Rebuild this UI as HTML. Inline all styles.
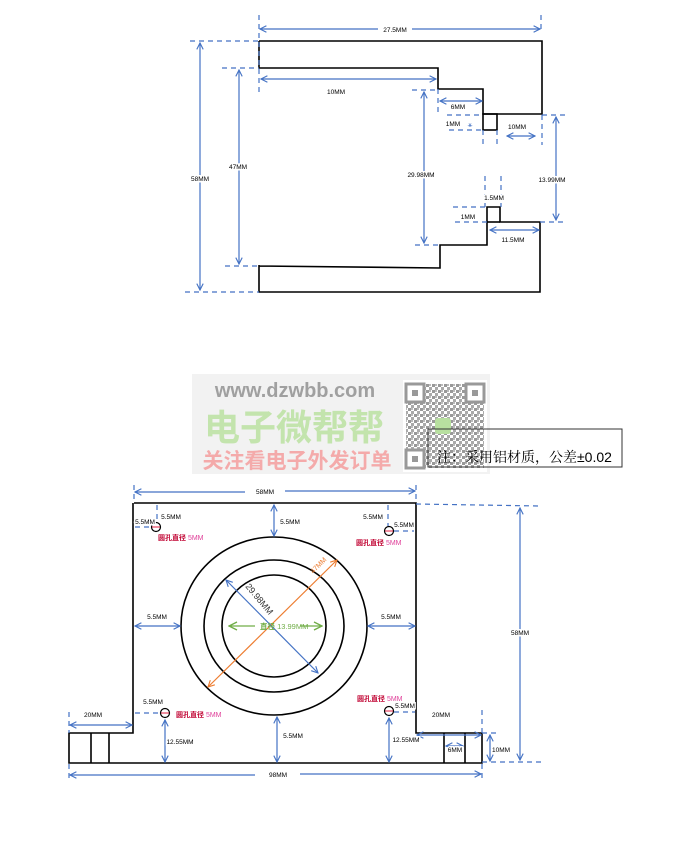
<!DOCTYPE html>
<html><head><meta charset="utf-8"><style>
html,body{margin:0;padding:0;background:#fff;}
svg{display:block;}
text{font-family:"Liberation Sans","Noto Sans CJK SC",sans-serif;}
.o{fill:none;stroke:#000;stroke-width:1.6;}
.d{stroke:#4472c4;stroke-width:1.2;fill:none;}
.dd{stroke:#4472c4;stroke-width:1.2;fill:none;stroke-dasharray:5,4;}
.l{font-size:6.5px;fill:#000;paint-order:stroke;stroke:#fff;stroke-width:3px;}
.r{font-size:7px;fill:#c00030;font-weight:bold;}
</style></head><body>
<svg width="682" height="848" viewBox="0 0 682 848" xmlns="http://www.w3.org/2000/svg">
<defs>
<marker id="a" viewBox="0 0 10 10" refX="9" refY="5" markerWidth="8" markerHeight="8" orient="auto-start-reverse" markerUnits="userSpaceOnUse"><polyline points="1,1 9,5 1,9" fill="none" stroke="#4472c4" stroke-width="1.4"/></marker>
<marker id="ao" viewBox="0 0 10 10" refX="9" refY="5" markerWidth="8" markerHeight="8" orient="auto-start-reverse" markerUnits="userSpaceOnUse"><polyline points="1,1 9,5 1,9" fill="none" stroke="#ed7d31" stroke-width="1.4"/></marker>
<marker id="ag" viewBox="0 0 10 10" refX="9" refY="5" markerWidth="10" markerHeight="10" orient="auto-start-reverse" markerUnits="userSpaceOnUse"><polyline points="1,1 9,5 1,9" fill="none" stroke="#70ad47" stroke-width="1.4"/></marker>
<pattern id="qr" width="6" height="6" patternUnits="userSpaceOnUse"><rect width="3" height="3" fill="#999"/><rect x="3" y="3" width="3" height="3" fill="#aaa"/><rect x="3" y="0" width="2" height="2" fill="#bbb"/></pattern>
</defs>

<!-- ===== TOP DRAWING ===== -->
<polyline class="o" points="259,41 542,41 542,114 483,114 483,89 438,89 438,68 259,68 259,41"/>
<rect class="o" x="483" y="114" width="14" height="16"/>
<polyline class="o" points="259,265 259,292 540,292 540,222 500,222 500,207 487,207 487,245 440,245 440,268 259,266"/>
<line class="o" x1="487" y1="222" x2="500" y2="222"/>

<!-- dims top -->
<line class="dd" x1="259" y1="15" x2="259" y2="92"/>
<line class="dd" x1="541" y1="15" x2="541" y2="32"/>
<line class="d" x1="260" y1="29" x2="378" y2="29" marker-start="url(#a)"/>
<line class="d" x1="412" y1="29" x2="540" y2="29" marker-end="url(#a)"/>
<text class="l" x="395" y="32" text-anchor="middle">27.5MM</text>

<line class="dd" x1="190" y1="41" x2="259" y2="41"/>
<line class="dd" x1="185" y1="292" x2="259" y2="292"/>
<line class="d" x1="200" y1="43" x2="200" y2="290" marker-start="url(#a)" marker-end="url(#a)"/>
<text class="l" x="200" y="181" text-anchor="middle">58MM</text>

<line class="dd" x1="222" y1="68" x2="259" y2="68"/>
<line class="dd" x1="225" y1="266" x2="259" y2="266"/>
<line class="d" x1="239" y1="70" x2="239" y2="264" marker-start="url(#a)" marker-end="url(#a)"/>
<text class="l" x="238" y="169" text-anchor="middle">47MM</text>

<line class="d" x1="261" y1="79" x2="436" y2="79" marker-start="url(#a)" marker-end="url(#a)"/>
<text class="l" x="336" y="94" text-anchor="middle">10MM</text>

<line class="dd" x1="412" y1="90" x2="438" y2="90"/>
<line class="dd" x1="415" y1="245" x2="440" y2="245"/>
<line class="d" x1="424" y1="92" x2="424" y2="243" marker-start="url(#a)" marker-end="url(#a)"/>
<text class="l" x="421" y="177" text-anchor="middle">29.98MM</text>

<line class="dd" x1="438" y1="89" x2="438" y2="114"/>
<line class="d" x1="440" y1="101" x2="482" y2="101" marker-start="url(#a)" marker-end="url(#a)"/>
<text class="l" x="458" y="109" text-anchor="middle">6MM</text>

<line class="dd" x1="447" y1="115" x2="482" y2="115"/>
<line class="dd" x1="449" y1="130" x2="482" y2="130"/>
<text class="l" x="453" y="126" text-anchor="middle">1MM</text>
<text x="470" y="127" font-size="8" fill="#4472c4" text-anchor="middle">⚹</text>
<line class="dd" x1="483" y1="130" x2="483" y2="146"/>
<line class="dd" x1="497" y1="130" x2="497" y2="146"/>
<line class="dd" x1="542" y1="115" x2="542" y2="145"/>
<line class="d" x1="507" y1="136" x2="535" y2="136" marker-start="url(#a)" marker-end="url(#a)"/>
<text class="l" x="517" y="129" text-anchor="middle">10MM</text>

<line class="dd" x1="542" y1="115" x2="566" y2="115"/>
<line class="dd" x1="540" y1="222" x2="566" y2="222"/>
<line class="d" x1="556" y1="117" x2="556" y2="220" marker-start="url(#a)" marker-end="url(#a)"/>
<text class="l" x="552" y="182" text-anchor="middle">13.99MM</text>

<line class="dd" x1="485" y1="176" x2="485" y2="207"/>
<line class="dd" x1="501" y1="176" x2="501" y2="207"/>
<text class="l" x="494" y="200" text-anchor="middle">1.5MM</text>
<line class="dd" x1="453" y1="207" x2="487" y2="207"/>
<line class="dd" x1="455" y1="222" x2="487" y2="222"/>
<text class="l" x="468" y="219" text-anchor="middle">1MM</text>
<line class="d" x1="490" y1="230" x2="539" y2="230" marker-start="url(#a)" marker-end="url(#a)"/>
<text class="l" x="513" y="242" text-anchor="middle">11.5MM</text>

<!-- ===== WATERMARK ===== -->
<rect x="192" y="374" width="298" height="100" fill="#f2f2f2"/>
<text x="295" y="397" font-size="20" font-weight="bold" fill="#a0a0a0" text-anchor="middle">www.dzwbb.com</text>
<text x="294" y="440" font-size="36" font-weight="bold" fill="#c3e4ad" text-anchor="middle" style="font-family:'Noto Sans CJK SC',sans-serif">电子微帮帮</text>
<text x="297" y="468" font-size="21" font-weight="bold" fill="#f4aaaa" text-anchor="middle" style="font-family:'Noto Sans CJK SC',sans-serif">关注看电子外发订单</text>
<rect x="403" y="380" width="84" height="92" fill="#fff"/>
<rect x="406" y="384" width="78" height="84" fill="url(#qr)"/>
<rect x="406" y="384" width="18" height="18" fill="#fff" stroke="#999" stroke-width="3"/>
<rect x="466" y="384" width="18" height="18" fill="#fff" stroke="#999" stroke-width="3"/>
<rect x="406" y="450" width="18" height="18" fill="#fff" stroke="#999" stroke-width="3"/>
<rect x="412" y="390" width="6" height="6" fill="#999"/>
<rect x="472" y="390" width="6" height="6" fill="#999"/>
<rect x="412" y="456" width="6" height="6" fill="#999"/>
<rect x="435" y="418" width="16" height="16" rx="3" fill="#b8e0a0"/>

<rect x="428" y="429" width="194" height="38" fill="none" stroke="#333" stroke-width="1"/>
<text x="437" y="462" font-size="14" fill="#000" style="font-family:'Liberation Sans','Noto Serif CJK SC',serif">注：采用铝材质，公差±0.02</text>

<!-- ===== BOTTOM DRAWING ===== -->
<polyline class="o" points="134,503 416,503 416,733 482,733 482,763 69,763 69,733 133,733 133,503"/>
<line class="o" x1="91" y1="733" x2="91" y2="763"/>
<line class="o" x1="109" y1="733" x2="109" y2="763"/>
<line class="o" x1="444" y1="733" x2="444" y2="763"/>
<line class="o" x1="465" y1="733" x2="465" y2="763"/>
<ellipse class="o" cx="274" cy="626" rx="93" ry="89"/>
<ellipse class="o" cx="274" cy="626" rx="70" ry="66"/>
<ellipse class="o" cx="274" cy="626" rx="52" ry="51"/>

<!-- holes -->
<g fill="#fff" stroke="#000" stroke-width="1.2">
<circle cx="156" cy="527" r="4.5"/><circle cx="165" cy="713" r="4.5"/>
<circle cx="389" cy="531" r="4.5"/><circle cx="389" cy="711" r="4.5"/>
</g>
<g stroke="#e02040" stroke-width="1">
<line x1="152" y1="527" x2="160" y2="527"/><line x1="161" y1="713" x2="169" y2="713"/>
<line x1="385" y1="531" x2="393" y2="531"/><line x1="385" y1="711" x2="393" y2="711"/>
</g>
<text class="r" x="158" y="540">圆孔直径 <tspan fill="#e0409a" font-weight="normal">5MM</tspan></text>
<text class="r" x="356" y="545">圆孔直径 <tspan fill="#e0409a" font-weight="normal">5MM</tspan></text>
<text class="r" x="176" y="717">圆孔直径 <tspan fill="#e0409a" font-weight="normal">5MM</tspan></text>
<text class="r" x="357" y="701">圆孔直径 <tspan fill="#e0409a" font-weight="normal">5MM</tspan></text>

<!-- dims -->
<line class="dd" x1="134" y1="485" x2="134" y2="503"/>
<line class="dd" x1="416" y1="485" x2="416" y2="503"/>
<line class="d" x1="135" y1="492" x2="245" y2="492" marker-start="url(#a)"/>
<line class="d" x1="285" y1="491" x2="415" y2="491" marker-end="url(#a)"/>
<text class="l" x="265" y="494" text-anchor="middle">58MM</text>

<line class="dd" x1="416" y1="504" x2="540" y2="506"/>
<line class="dd" x1="482" y1="762" x2="545" y2="762"/>
<line class="d" x1="520" y1="508" x2="520" y2="760" marker-start="url(#a)" marker-end="url(#a)"/>
<text class="l" x="520" y="635" text-anchor="middle">58MM</text>

<line class="dd" x1="69" y1="712" x2="69" y2="733"/>
<line class="dd" x1="69" y1="764" x2="69" y2="780"/>
<line class="dd" x1="482" y1="710" x2="482" y2="733"/>
<line class="dd" x1="482" y1="764" x2="482" y2="780"/>
<line class="d" x1="70" y1="775" x2="255" y2="775" marker-start="url(#a)"/>
<line class="d" x1="300" y1="774" x2="481" y2="774" marker-end="url(#a)"/>
<text class="l" x="278" y="777" text-anchor="middle">98MM</text>

<line class="d" x1="70" y1="725" x2="132" y2="725" marker-start="url(#a)" marker-end="url(#a)"/>
<text class="l" x="93" y="717" text-anchor="middle">20MM</text>
<line class="d" x1="417" y1="735" x2="481" y2="735" marker-start="url(#a)" marker-end="url(#a)"/>
<text class="l" x="441" y="717" text-anchor="middle">20MM</text>

<line class="dd" x1="482" y1="733" x2="498" y2="733"/>
<line class="d" x1="490" y1="735" x2="490" y2="761" marker-start="url(#a)" marker-end="url(#a)"/>
<text class="l" x="501" y="752" text-anchor="middle">10MM</text>
<line class="d" x1="446" y1="746" x2="463" y2="746" marker-start="url(#a)" marker-end="url(#a)"/>
<text class="l" x="455" y="752" text-anchor="middle">6MM</text>

<line class="d" x1="165" y1="720" x2="165" y2="762" marker-start="url(#a)" marker-end="url(#a)"/>
<text class="l" x="180" y="744" text-anchor="middle">12.55MM</text>
<line class="d" x1="389" y1="718" x2="389" y2="762" marker-start="url(#a)" marker-end="url(#a)"/>
<text class="l" x="406" y="742" text-anchor="middle">12.55MM</text>
<line class="d" x1="277" y1="717" x2="277" y2="762" marker-start="url(#a)" marker-end="url(#a)"/>
<text class="l" x="293" y="738" text-anchor="middle">5.5MM</text>
<line class="d" x1="274" y1="505" x2="274" y2="536" marker-start="url(#a)" marker-end="url(#a)"/>
<text class="l" x="290" y="524" text-anchor="middle">5.5MM</text>
<line class="d" x1="135" y1="626" x2="180" y2="626" marker-start="url(#a)" marker-end="url(#a)"/>
<text class="l" x="157" y="619" text-anchor="middle">5.5MM</text>
<line class="d" x1="368" y1="626" x2="415" y2="626" marker-start="url(#a)" marker-end="url(#a)"/>
<text class="l" x="391" y="619" text-anchor="middle">5.5MM</text>

<line class="dd" x1="157" y1="505" x2="157" y2="523"/>
<line class="dd" x1="135" y1="527" x2="152" y2="527"/>
<text class="l" x="171" y="519" text-anchor="middle">5.5MM</text>
<text class="l" x="145" y="524" text-anchor="middle">5.5MM</text>
<line class="dd" x1="388" y1="505" x2="388" y2="526"/>
<line class="dd" x1="394" y1="531" x2="414" y2="531"/>
<text class="l" x="373" y="519" text-anchor="middle">5.5MM</text>
<text class="l" x="404" y="527" text-anchor="middle">5.5MM</text>
<line class="dd" x1="135" y1="713" x2="160" y2="713"/>
<text class="l" x="153" y="704" text-anchor="middle">5.5MM</text>
<line class="dd" x1="394" y1="712" x2="415" y2="712"/>
<text class="l" x="405" y="708" text-anchor="middle">5.5MM</text>

<!-- diagonals -->
<line x1="208" y1="687" x2="337" y2="560" stroke="#ed7d31" stroke-width="1.2" marker-start="url(#ao)" marker-end="url(#ao)"/>
<text x="320" y="567" font-size="7" fill="#ed7d31" transform="rotate(-45 320 567)" text-anchor="middle">47MM</text>
<line x1="226" y1="580" x2="318" y2="673" stroke="#4472c4" stroke-width="1.2" marker-start="url(#a)" marker-end="url(#a)"/>
<text x="257" y="601" font-size="9" fill="#333" transform="rotate(50 257 601)" text-anchor="middle">29.98MM</text>
<line x1="229" y1="626" x2="255" y2="626" stroke="#70ad47" stroke-width="1.2" marker-start="url(#ag)"/>
<line x1="300" y1="626" x2="322" y2="626" stroke="#70ad47" stroke-width="1.2" marker-end="url(#ag)"/>
<text x="260" y="629" font-size="7.5" fill="#70ad47"><tspan font-weight="bold">直径</tspan> 13.99MM</text>
</svg>
</body></html>
